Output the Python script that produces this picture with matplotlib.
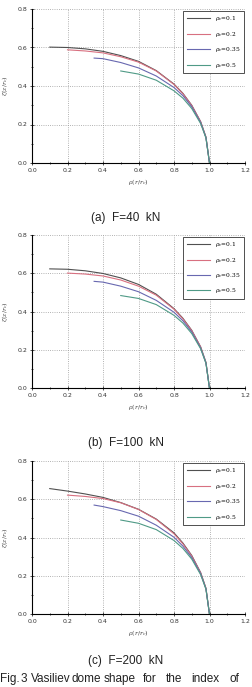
import matplotlib
matplotlib.use('Agg')
import matplotlib.pyplot as plt
import matplotlib.ticker as ticker
from matplotlib import font_manager
import numpy as np

# plot settings
plt.rc('font', family='DejaVu Sans', size=5)
plt.rc('mathtext', fontset='dejavuserif')

# data
x_01 = [0.1, 0.2, 0.3, 0.4, 0.5, 0.6, 0.7, 0.8, 0.85, 0.9, 0.95, 0.98, 1.0]
x_02 = [0.2, 0.3, 0.4, 0.5, 0.6, 0.7, 0.8, 0.85, 0.9, 0.95, 0.98, 1.0]
x_035 = [0.35, 0.4, 0.5, 0.6, 0.7, 0.8, 0.85, 0.9, 0.95, 0.98, 1.0]
x_05 = [0.5, 0.6, 0.7, 0.8, 0.85, 0.9, 0.95, 0.98, 1.0]

# F=40 kN
a_01 = [0.602, 0.600, 0.593, 0.580, 0.558, 0.528, 0.480, 0.410, 0.362, 0.300, 0.215, 0.135, 0.0]
a_02 = [0.588, 0.582, 0.572, 0.552, 0.524, 0.478, 0.408, 0.360, 0.298, 0.214, 0.134, 0.0]
a_035 = [0.545, 0.542, 0.522, 0.494, 0.452, 0.392, 0.350, 0.292, 0.210, 0.132, 0.0]
a_05 = [0.478, 0.462, 0.430, 0.375, 0.337, 0.283, 0.205, 0.130, 0.0]

# F=100 kN
b_01 = [0.622, 0.620, 0.612, 0.598, 0.575, 0.541, 0.490, 0.415, 0.365, 0.302, 0.216, 0.135, 0.0]
b_02 = [0.600, 0.595, 0.585, 0.564, 0.532, 0.485, 0.412, 0.362, 0.300, 0.215, 0.134, 0.0]
b_035 = [0.557, 0.553, 0.532, 0.503, 0.458, 0.396, 0.352, 0.293, 0.210, 0.132, 0.0]
b_05 = [0.483, 0.468, 0.436, 0.380, 0.340, 0.285, 0.206, 0.130, 0.0]

# F=200 kN
c_01 = [0.656, 0.643, 0.628, 0.610, 0.583, 0.548, 0.497, 0.425, 0.372, 0.307, 0.218, 0.136, 0.0]
c_02 = [0.622, 0.615, 0.604, 0.582, 0.547, 0.495, 0.420, 0.368, 0.304, 0.216, 0.135, 0.0]
c_035 = [0.570, 0.562, 0.541, 0.512, 0.465, 0.402, 0.356, 0.296, 0.212, 0.133, 0.0]
c_05 = [0.492, 0.475, 0.442, 0.385, 0.344, 0.288, 0.207, 0.131, 0.0]

xs = [x_01, x_02, x_035, x_05]
panels = [[a_01, a_02, a_035, a_05],
          [b_01, b_02, b_035, b_05],
          [c_01, c_02, c_035, c_05]]
labels = ['0.1', '0.2', '0.35', '0.5']
colors = ['#505050', '#d87080', '#6868b0', '#4f9a86']
captions = ['(a)  F=40  kN', '(b)  F=100  kN', '(c)  F=200  kN']

# caption font: narrow sans if it is there
try:
    font_manager.findfont('Liberation Sans Narrow', fallback_to_default=False)
    cap_font, cap_size = 'Liberation Sans Narrow', 10
except ValueError:
    cap_font, cap_size = 'Liberation Sans', 8.5

W, H = 252, 687
fig = plt.figure(figsize=(W / 100, H / 100), dpi=100)

# axes boxes in pixels: (top, bottom)
boxes = [(9, 163), (234.7, 388.3), (461, 614.3)]
left, right = 32, 245

for k, (top, bot) in enumerate(boxes):
    ax = fig.add_axes([left / W, 1 - bot / H, (right - left) / W, (bot - top) / H])
    for x, y, lab, c in zip(xs, panels[k], labels, colors):
        ax.plot(x, y, color=c, lw=0.8, label=r'$\rho_c$=' + lab)
    ax.set_xlim(0, 1.2)
    ax.set_ylim(0, 0.8)
    ax.xaxis.set_major_locator(ticker.MultipleLocator(0.2))
    ax.xaxis.set_minor_locator(ticker.MultipleLocator(0.1))
    ax.yaxis.set_major_locator(ticker.MultipleLocator(0.2))
    ax.yaxis.set_minor_locator(ticker.MultipleLocator(0.1))
    ax.xaxis.set_major_formatter(ticker.FormatStrFormatter('%.1f'))
    ax.yaxis.set_major_formatter(ticker.FormatStrFormatter('%.1f'))
    ax.tick_params(which='major', direction='inout', length=3, width=0.6,
                   labelsize=4.5, colors='#333333', pad=2)
    ax.tick_params(which='minor', direction='inout', length=1.6, width=0.5)
    ax.spines['top'].set_visible(False)
    ax.spines['right'].set_visible(False)
    ax.spines['left'].set_linewidth(0.8)
    ax.spines['bottom'].set_linewidth(0.8)
    ax.grid(which='major', linestyle=':', color='#999999', lw=0.6)
    ax.set_axisbelow(True)
    ax.set_xlabel(r'$\rho(r/r_c)$', fontsize=4.5, labelpad=3, color='#444444')
    ax.set_ylabel(r'$\zeta(z/r_c)$', fontsize=4.5, labelpad=5, color='#444444')
    leg = ax.legend(loc='upper right', bbox_to_anchor=(1.0, 0.995),
                    prop={'family': 'DejaVu Serif', 'size': 4.2},
                    frameon=True, fancybox=False, framealpha=1, handlelength=4,
                    labelspacing=1.1, borderpad=0.6, borderaxespad=0.2)
    leg.get_frame().set_edgecolor('#333333')
    leg.get_frame().set_linewidth(0.6)
    cap_y = [218, 443, 661][k]
    fig.text(0.5, 1 - cap_y / H, captions[k], ha='center', va='center',
             fontsize=cap_size, family=cap_font, color='#222222')

# figure caption, justified to the full width
words = ['Fig.', '3', 'Vasiliev', 'dome', 'shape', 'for', 'the', 'index', 'of']
word_x = [0, 21, 31, 72, 104, 143, 166, 191, 229]
for w, px in zip(words, word_x):
    fig.text(px / W, 1 - 679 / H, w, ha='left', va='center', fontsize=cap_size,
             family=cap_font, color='#222222')

fig.savefig('out.png', dpi=100)
